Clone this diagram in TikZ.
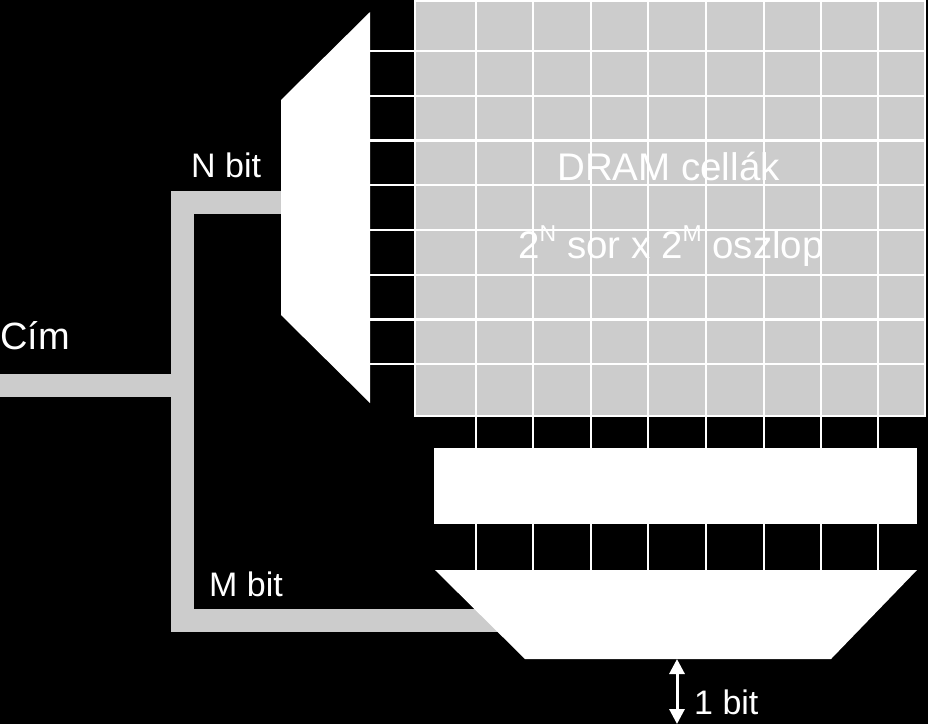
\documentclass[tikz,border=0pt]{standalone}
\usepackage{fontspec}
\setmainfont{Liberation Sans}
\usetikzlibrary{arrows.meta}
\definecolor{cellgray}{HTML}{CCCCCC}
\newcommand{\supsm}[1]{\raisebox{0.42em}{\fontsize{23}{26}\selectfont #1}}
\tikzset{
  lbl/.style={text=white, inner sep=0pt, anchor=base west, font=\fontsize{34}{39}\selectfont},
  celltext/.style={text=white, inner sep=0pt, anchor=base, font=\fontsize{38.5}{44}\selectfont},
  bus/.style={draw=cellgray, line width=23pt, line join=miter},
  wire/.style={draw=white, line width=2.2pt},
}
\begin{document}
\begin{tikzpicture}[x=1pt,y=-1pt]
\fill[black] (0,0) rectangle (928,724);
\useasboundingbox (0,0) rectangle (928,724);
% coordinates
\coordinate (busin) at (0,385);
\coordinate (busT) at (182,385);
\coordinate (nTop) at (182,202);
\coordinate (decIn) at (285,202);
\coordinate (mBot) at (182,620);
\coordinate (muxIn) at (505,620);
% address bus
\draw[bus] (decIn) -- (nTop) -- (mBot) -- (muxIn);
\draw[bus] (busin) -- ([xshift=11pt]busT);
% DRAM cell array
\fill[cellgray] (415,1) rectangle (925,416);
\foreach \x in {476,533,591,648,706,764,821,878} {
  \draw[wire] (\x,1) -- (\x,570);
}
\foreach \y in {51,96,140.5,185,230,275,319.5,364} {
  \draw[wire] (370,\y) -- (925,\y);
}
\draw[wire] (415,1) rectangle (925,416);
% row decoder
\fill[white] (281,100) -- (370,12) -- (370,403) -- (281,315) -- cycle;
% sense amplifiers
\fill[white] (434,448) rectangle (917,524);
% column mux
\fill[white] (435,570) -- (917,570) -- (831,659) -- (525,659) -- cycle;
% output
\coordinate (outTop) at (677,659);
\coordinate (outBot) at (677,724);
\draw[white, line width=3pt, {Triangle[length=15pt,width=15pt]}-{Triangle[length=15pt,width=15pt]}] (outTop) -- (outBot);
% texts
\node[lbl] (nbit) at (191,177) {N bit};
\node[lbl] (mbit) at (209,596) {M bit};
\node[lbl] (obit) at (694,714) {1 bit};
\node[lbl, font=\fontsize{38}{44}\selectfont] (cim) at (0,349) {Cím};
\node[celltext] (title) at (668.5,180) {DRAM cellák};
\node[celltext] (size) at (671,258) {2\supsm{N} sor x 2\supsm{M} oszlop};
\end{tikzpicture}
\end{document}
